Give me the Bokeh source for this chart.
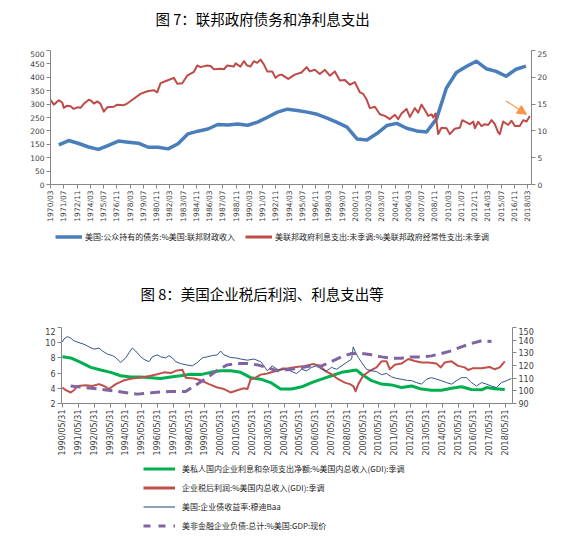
from bokeh.plotting import figure
from bokeh.layouts import column, row
from bokeh.models import (Range1d, LinearAxis, FixedTicker, Legend, LegendItem,
                          Arrow, NormalHead, Label)
from bokeh.embed import file_html
from bokeh.resources import INLINE

CJK = "Noto Sans CJK SC"
NUM = "DejaVu Sans"

fig7_title = "图 7：联邦政府债务和净利息支出"
fig7_xticks = ["1970/03", "1971/07", "1972/11", "1974/03", "1975/07", "1976/11", "1978/03",
               "1979/07", "1980/11", "1982/03", "1983/07", "1984/11", "1986/03", "1987/07",
               "1988/11", "1990/03", "1991/07", "1992/11", "1994/03", "1995/07", "1996/11",
               "1998/03", "1999/07", "2000/11", "2002/03", "2003/07", "2004/11", "2006/03",
               "2007/07", "2008/11", "2010/03", "2011/07", "2012/11", "2014/03", "2015/07",
               "2016/11", "2018/03"]
fig7_left_ticks = [0, 50, 100, 150, 200, 250, 300, 350, 400, 450, 500]
fig7_right_ticks = [0, 5, 10, 15, 20, 25]
debt_name = "美国:公众持有的债务:%美国:联邦财政收入"
debt_years = [1971, 1972, 1973, 1974, 1975, 1976, 1977, 1978, 1979, 1980, 1981, 1982,
              1983, 1984, 1985, 1986, 1987, 1988, 1989, 1990, 1991, 1992, 1993, 1994,
              1995, 1996, 1997, 1998, 1999, 2000, 2001, 2002, 2003, 2004, 2005, 2006,
              2007, 2008, 2009, 2010, 2011, 2012, 2013, 2014, 2015, 2016, 2017, 2018]
debt_vals = [148, 164, 153, 140, 131, 146, 162, 158, 154, 139, 139, 133,
             152, 189, 199, 207, 224, 222, 226, 221, 233, 251, 270, 281,
             276, 270, 262, 248, 232, 214, 170, 166, 190, 220, 228, 210,
             200, 196, 245, 360, 418, 440, 460, 432, 422, 404, 430, 442]
int_name = "美联邦政府利息支出:未季调:%美联邦政府经常性支出:未季调"
int_t = [1970.17, 1970.50, 1971.01, 1971.35, 1971.51, 1971.85, 1972.18, 1972.51, 1972.85,
         1973.19, 1973.52, 1974.02, 1974.19, 1974.53, 1974.87, 1975.20, 1975.53, 1975.87,
         1976.54, 1976.88, 1977.54, 1977.88, 1978.55, 1979.22, 1979.90, 1980.56, 1980.90,
         1981.24, 1981.91, 1982.57, 1982.92, 1983.42, 1983.92, 1984.59, 1984.93, 1985.26,
         1985.93, 1986.27, 1986.60, 1987.27, 1987.61, 1987.95, 1988.61, 1988.78, 1989.28,
         1989.62, 1989.96, 1990.29, 1990.62, 1990.96, 1991.30, 1991.63, 1991.97, 1992.47,
         1992.81, 1993.14, 1993.41, 1994.08, 1994.75, 1995.42, 1995.93, 1996.26, 1996.76,
         1997.26, 1997.77, 1998.27, 1998.77, 1999.28, 1999.78, 2000.28, 2000.78, 2001.29,
         2001.63, 2001.96, 2002.30, 2002.80, 2003.30, 2003.80, 2004.31, 2004.81, 2005.15,
         2005.48, 2005.98, 2006.32, 2006.82, 2007.16, 2007.49, 2007.83, 2008.17, 2008.50,
         2008.67, 2008.90, 2009.17, 2009.50, 2010.01, 2010.34, 2010.84, 2011.35, 2011.59,
         2012.02, 2012.36, 2012.70, 2012.86, 2013.20, 2013.53, 2013.86, 2014.20, 2014.54,
         2014.87, 2015.21, 2015.37, 2015.71, 2016.21, 2016.55, 2016.88, 2017.38, 2017.72,
         2018.06, 2018.39]
int_v = [15.8, 14.9, 15.7, 15.3, 14.3, 14.7, 14.6, 14.1, 14.4,
         14.3, 15.05, 15.8, 15.7, 15.1, 15.5, 15.05, 13.6, 14.4,
         14.5, 14.9, 14.8, 15.1, 16.0, 16.9, 17.4, 17.6, 17.2,
         18.9, 19.4, 19.9, 18.8, 18.9, 20.3, 21.0, 22.2, 21.9,
         22.2, 22.1, 21.5, 21.6, 21.5, 22.2, 22.0, 22.6, 22.0,
         23.0, 22.2, 22.0, 23.0, 22.7, 23.3, 22.4, 21.1, 21.1,
         19.9, 20.4, 20.5, 19.7, 20.5, 20.9, 21.9, 21.1, 21.4,
         20.6, 21.4, 20.3, 21.1, 19.4, 19.5, 18.6, 19.1, 17.2,
         16.9, 15.9, 14.25, 14.5, 13.1, 12.8, 12.2, 13.0, 12.2,
         13.25, 14.1, 12.6, 14.25, 13.4, 14.9, 13.9, 12.8, 13.1,
         12.5, 13.25, 9.4, 10.6, 10.5, 9.4, 10.4, 10.6, 12.0,
         11.6, 11.25, 11.75, 10.5, 11.7, 10.9, 11.25, 11.1, 12.0,
         11.25, 9.7, 9.4, 11.75, 11.1, 11.9, 10.9, 10.9, 12.0,
         11.75, 12.8]
arrow_from = (2016.0, 15.6)
arrow_to = (2018.05, 13.1)

fig8_title = "图 8：美国企业税后利润、利息支出等"
fig8_xticks = ["%d/05/31" % y for y in range(1990, 2019)]
fig8_left_ticks = [2, 4, 6, 8, 10, 12]
fig8_right_ticks = [90, 100, 110, 120, 130, 140, 150]
green_name = "美私人国内企业利息和杂项支出净额:%美国内总收入(GDI):季调"
green_t = [1990.41, 1990.93, 1991.57, 1992.20, 1992.83, 1993.46, 1994.09, 1994.72, 1995.36,
           1995.99, 1996.62, 1997.25, 1997.88, 1998.52, 1999.15, 1999.78, 2000.41, 2001.04,
           2001.67, 2002.31, 2002.94, 2003.57, 2004.20, 2004.90, 2005.53, 2006.16, 2006.79,
           2007.42, 2008.05, 2008.69, 2009.00, 2009.32, 2009.95, 2010.58, 2011.21, 2011.84,
           2012.48, 2013.11, 2013.74, 2014.37, 2015.00, 2015.63, 2016.26, 2016.90, 2017.21,
           2017.74, 2018.37]
green_v = [8.15, 8.0, 7.4, 6.75, 6.4, 6.1, 5.65, 5.5, 5.5,
           5.4, 5.3, 5.5, 5.65, 5.85, 5.8, 6.1, 6.3, 6.3,
           6.1, 5.4, 5.2, 4.75, 3.9, 3.9, 4.2, 4.75, 5.2,
           5.65, 6.1, 6.3, 6.4, 5.85, 5.0, 4.55, 4.45, 4.1,
           4.3, 3.9, 3.75, 3.75, 4.0, 4.2, 3.85, 3.8, 4.1,
           3.95, 3.85]
red_name = "企业税后利润:%美国内总收入(GDI):季调"
red_t = [1990.41, 1990.62, 1990.93, 1991.14, 1991.36, 1991.88, 1992.30, 1992.72, 1993.04,
         1993.35, 1993.78, 1994.30, 1994.83, 1995.25, 1995.57, 1995.99, 1996.41, 1996.83,
         1997.25, 1997.57, 1997.99, 1998.20, 1998.72, 1999.15, 1999.67, 2000.20, 2000.62,
         2001.04, 2001.46, 2001.88, 2002.10, 2002.31, 2002.62, 2002.94, 2003.36, 2003.67,
         2003.99, 2004.30, 2004.69, 2005.21, 2005.74, 2006.27, 2006.68, 2007.00, 2007.42,
         2007.84, 2008.26, 2008.58, 2008.79, 2008.94, 2009.11, 2009.42, 2009.84, 2010.26,
         2010.58, 2010.90, 2011.11, 2011.42, 2011.84, 2012.27, 2012.68, 2013.11, 2013.53,
         2014.05, 2014.33, 2014.58, 2015.00, 2015.42, 2015.84, 2016.05, 2016.37, 2016.90,
         2017.42, 2017.74, 2018.05, 2018.37]
red_v = [4.1, 3.75, 3.45, 3.75, 4.3, 4.4, 4.3, 4.55, 4.3,
         3.9, 4.55, 5.05, 5.3, 5.4, 5.5, 5.65, 5.85, 6.1,
         6.0, 6.3, 6.45, 5.4, 5.3, 5.05, 4.55, 4.1, 3.9,
         3.45, 3.75, 4.0, 3.9, 5.2, 5.4, 5.8, 5.95, 6.15,
         6.3, 6.6, 6.65, 6.8, 6.95, 7.2, 6.95, 6.3, 5.85,
         5.2, 4.75, 4.55, 4.3, 3.6, 4.55, 5.65, 6.3, 6.75,
         7.55, 7.55, 6.5, 7.1, 7.25, 7.85, 7.6, 7.4, 7.4,
         7.25, 6.75, 7.4, 7.55, 6.95, 6.75, 6.4, 6.65, 6.65,
         6.8, 6.5, 6.75, 7.55]
baa_name = "美国:企业债收益率:穆迪Baa"
baa_t = [1990.41, 1990.51, 1990.73, 1990.93, 1991.14, 1991.46, 1991.77, 1992.09, 1992.41,
         1992.72, 1992.94, 1993.25, 1993.57, 1993.78, 1994.09, 1994.41, 1994.62, 1994.83,
         1995.04, 1995.36, 1995.57, 1995.88, 1996.10, 1996.41, 1996.62, 1996.94, 1997.14,
         1997.36, 1997.57, 1997.88, 1998.20, 1998.62, 1998.94, 1999.25, 1999.57, 1999.88,
         2000.20, 2000.41, 2000.62, 2001.04, 2001.36, 2001.67, 2002.10, 2002.52, 2002.94,
         2003.15, 2003.36, 2003.67, 2003.99, 2004.20, 2004.58, 2004.90, 2005.21, 2005.53,
         2005.84, 2006.16, 2006.47, 2006.79, 2007.11, 2007.42, 2007.74, 2008.05, 2008.37,
         2008.69, 2008.79, 2008.94, 2009.11, 2009.32, 2009.63, 2009.95, 2010.26, 2010.58,
         2010.90, 2011.21, 2011.53, 2011.84, 2012.16, 2012.48, 2012.79, 2013.11, 2013.42,
         2013.74, 2014.05, 2014.37, 2014.69, 2015.00, 2015.32, 2015.63, 2015.95, 2016.26,
         2016.58, 2016.90, 2017.21, 2017.53, 2017.85, 2018.16, 2018.48, 2018.79]
baa_v = [10.1, 10.5, 10.8, 10.6, 10.25, 10.0, 9.8, 9.45, 9.15,
         9.3, 8.9, 8.5, 8.3, 8.05, 7.4, 8.0, 8.7, 9.3,
         8.9, 8.15, 7.8, 7.5, 8.15, 8.4, 8.15, 8.0, 8.3,
         8.0, 7.5, 7.25, 7.1, 6.95, 7.4, 8.0, 8.15, 8.3,
         8.4, 8.9, 8.4, 8.05, 8.0, 7.85, 7.7, 7.85, 7.5,
         6.95, 6.3, 6.95, 6.5, 6.4, 6.5, 6.2, 5.95, 6.5,
         6.3, 6.75, 6.95, 6.5, 6.3, 6.75, 6.5, 6.95, 7.4,
         7.85, 9.45, 8.7, 8.05, 7.4, 6.5, 6.3, 6.2, 5.8,
         5.95, 5.5, 5.3, 5.2, 5.05, 5.0, 4.75, 4.55, 5.2,
         5.4, 5.2, 5.0, 4.75, 4.55, 5.0, 5.4, 5.4, 4.75,
         4.3, 4.75, 4.55, 4.3, 4.1, 4.75, 5.0, 5.3]
nfc_name = "美非金融企业负债:总计:%美国:GDP:现价"
nfc_t = [1990.93, 1991.77, 1992.83, 1993.88, 1995.15, 1996.20, 1997.25, 1998.20, 1998.94,
         1999.57, 2000.20, 2000.83, 2001.46, 2002.10, 2002.73, 2003.36, 2003.99, 2004.90,
         2005.53, 2006.16, 2006.79, 2007.42, 2008.05, 2008.69, 2009.32, 2009.95, 2010.58,
         2011.21, 2011.84, 2012.48, 2013.11, 2013.74, 2014.37, 2015.00, 2015.63, 2016.26,
         2016.90, 2017.53]
nfc_v = [103.9, 102.6, 101.3, 99.5, 97.4, 98.7, 99.5, 99.5, 105.3,
         110.5, 116.3, 120.5, 121.6, 121.6, 120.5, 118.4, 115.8, 117.1,
         118.4, 119.7, 119.7, 123.2, 126.8, 129.5, 129.5, 128.4, 126.8,
         125.8, 125.8, 126.8, 126.8, 127.6, 129.5, 131.6, 134.7, 137.4,
         139.5, 138.9]


def m7(y):
    return (y - 1970) * 12


def tick7(lbl):
    y, m = lbl.split("/")
    return (int(y) - 1970) * 12 + int(m) - 1


def m8(y):
    return (y - 1990) * 12


def tick8(lbl):
    y, m, d = lbl.split("/")
    return (int(y) - 1990) * 12 + int(m)


AX_COL = "#868686"
LBL_COL = "#404040"
BLUE7, RED7, ORANGE = "#4A7EBB", "#BE4B48", "#F79646"
GREEN8, RED8, NAVY8, PURPLE8 = "#00B050", "#C0504D", "#1F3F7F", "#8064A2"
W = 562


def style_axis(ax, size):
    ax.axis_line_color = AX_COL
    ax.major_tick_line_color = AX_COL
    ax.minor_tick_line_color = None
    ax.major_tick_out = 4
    ax.major_tick_in = 0
    ax.major_label_text_font = NUM
    ax.major_label_text_font_size = size
    ax.major_label_text_color = LBL_COL
    ax.major_label_standoff = 2


def style_fig(p):
    p.xgrid.visible = False
    p.ygrid.visible = False
    p.outline_line_color = None
    p.background_fill_color = "white"
    p.border_fill_color = "white"


def strip_fig(height):
    f = figure(width=W, height=height, x_range=Range1d(0, 1), y_range=Range1d(0, 1),
               x_axis_type=None, y_axis_type=None, output_backend="svg",
               toolbar_location=None, min_border=0, title=None)
    f.xgrid.visible = False
    f.ygrid.visible = False
    f.outline_line_color = None
    return f


def title_label(text, x, y):
    return Label(text=text, x=x, y=y, x_units="screen", y_units="screen",
                 text_font=CJK, text_font_size="14.5px", text_color="#000000",
                 text_align="left", text_baseline="middle")


def proxy(f, **kw):
    # legend-only renderer: one point outside the visible range, nothing is drawn
    return f.line(x=[-1], y=[-1], **kw)


def make_legend(items, loc, glyph_w, standoff, spacing):
    return Legend(items=items, orientation="vertical", location=loc,
                  label_text_font=CJK, label_text_font_size="8px",
                  label_text_color="#262626", glyph_width=glyph_w, glyph_height=11,
                  label_height=11, label_standoff=standoff, spacing=spacing,
                  padding=0, margin=0, border_line_color=None, background_fill_alpha=0)


# ---------------- title strip for figure 7
t1 = strip_fig(50)
t1.add_layout(title_label(fig7_title, 155, 32))

# ---------------- Figure 7
p1 = figure(width=W, height=174, x_range=Range1d(2, 582.7), y_range=Range1d(0, 500),
            output_backend="svg", toolbar_location=None, title=None,
            min_border_left=50, min_border_right=31, min_border_top=0, min_border_bottom=40)
style_fig(p1)
p1.extra_y_ranges = {"r": Range1d(0, 25)}
pos7 = [tick7(s) for s in fig7_xticks]
p1.xaxis.ticker = FixedTicker(ticks=pos7)
p1.xaxis.major_label_overrides = {k: s for k, s in zip(pos7, fig7_xticks)}
p1.xaxis.major_label_orientation = 1.5707963
p1.yaxis.ticker = FixedTicker(ticks=fig7_left_ticks)
r_ax1 = LinearAxis(y_range_name="r", ticker=FixedTicker(ticks=fig7_right_ticks))
p1.add_layout(r_ax1, "right")
for ax in p1.xaxis + p1.yaxis + [r_ax1]:
    style_axis(ax, "7.5px")

p1.line([m7(y) for y in debt_years], debt_vals, line_color=BLUE7, line_width=3.5,
        line_join="round")
p1.line([m7(t) for t in int_t], int_v, line_color=RED7, line_width=2,
        y_range_name="r", line_join="round")
p1.add_layout(Arrow(end=NormalHead(size=9, fill_color=ORANGE, line_color=ORANGE),
                    x_start=m7(arrow_from[0]), y_start=arrow_from[1],
                    x_end=m7(arrow_to[0]), y_end=arrow_to[1],
                    line_color=ORANGE, line_width=1.2, y_range_name="r"))

# ---------------- strip: legend of figure 7 + title of figure 8
l1 = strip_fig(103)
lb = proxy(l1, line_color=BLUE7, line_width=3.5)
lr = proxy(l1, line_color=RED7, line_width=3)
l1.add_layout(make_legend([LegendItem(label=debt_name, renderers=[lb])], (55, 85), 27, 3, 0))
l1.add_layout(make_legend([LegendItem(label=int_name, renderers=[lr])], (245, 85), 27, 3, 0))
l1.add_layout(title_label(fig8_title, 140, 34))

# ---------------- Figure 8
p2 = figure(width=W, height=131, x_range=Range1d(4.2, 346.3), y_range=Range1d(2, 12),
            output_backend="svg", toolbar_location=None, title=None,
            min_border_left=61, min_border_right=50, min_border_top=0, min_border_bottom=55)
style_fig(p2)
p2.extra_y_ranges = {"r": Range1d(90, 150)}
pos8 = [tick8(s) for s in fig8_xticks]
p2.xaxis.ticker = FixedTicker(ticks=pos8)
p2.xaxis.major_label_overrides = {k: s for k, s in zip(pos8, fig8_xticks)}
p2.xaxis.major_label_orientation = 1.5707963
p2.yaxis.ticker = FixedTicker(ticks=fig8_left_ticks)
r_ax2 = LinearAxis(y_range_name="r", ticker=FixedTicker(ticks=fig8_right_ticks))
p2.add_layout(r_ax2, "right")
for ax in p2.xaxis + p2.yaxis + [r_ax2]:
    style_axis(ax, "8px")

p2.line([m8(t) for t in green_t], green_v, line_color=GREEN8, line_width=3, line_join="round")
p2.line([m8(t) for t in red_t], red_v, line_color=RED8, line_width=2, line_join="round")
p2.line([m8(t) for t in baa_t], baa_v, line_color=NAVY8, line_width=0.9, line_join="round")
p2.line([m8(t) for t in nfc_t], nfc_v, line_color=PURPLE8, line_width=3,
        line_dash="10 6", y_range_name="r")

# ---------------- legend block for figure 8
l2 = strip_fig(80)
lg = proxy(l2, line_color=GREEN8, line_width=3)
lrd = proxy(l2, line_color=RED8, line_width=3)
lnv = proxy(l2, line_color=NAVY8, line_width=1)
lpp = proxy(l2, line_color=PURPLE8, line_width=3, line_dash="7 8")
l2.add_layout(make_legend([LegendItem(label=green_name, renderers=[lg]),
                           LegendItem(label=red_name, renderers=[lrd]),
                           LegendItem(label=baa_name, renderers=[lnv]),
                           LegendItem(label=nfc_name, renderers=[lpp])],
                          (143, 7), 32, 7, 8))

layout = column(row(t1), row(p1), row(l1), row(p2), row(l2), spacing=0)
open("out.html", "w").write(file_html(layout, INLINE))
